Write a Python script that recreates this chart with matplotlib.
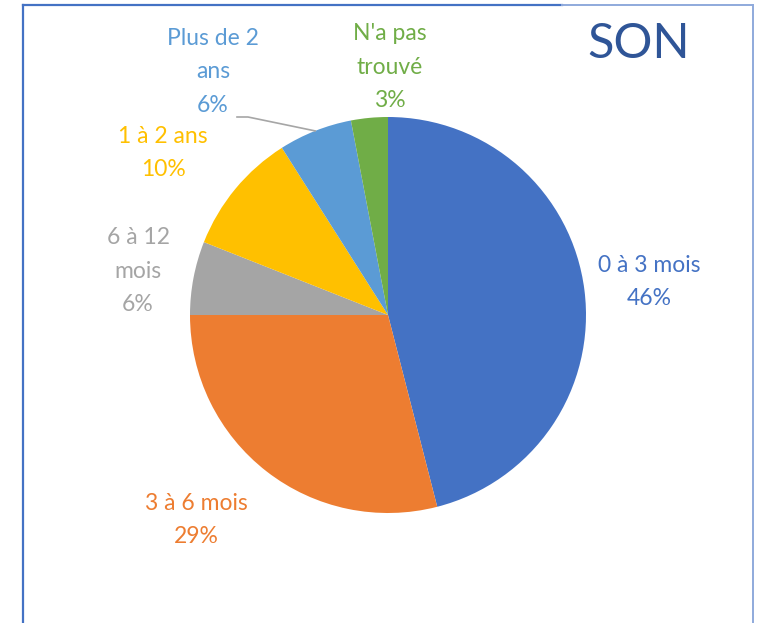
import numpy as np
import matplotlib
matplotlib.use("Agg")
from matplotlib import pyplot as plt
from matplotlib.lines import Line2D

plt.rcParams['font.family'] = ['Lato', 'DejaVu Sans']

labels = ["0 à 3 mois", "3 à 6 mois", "6 à 12\nmois", "1 à 2 ans", "Plus de 2\nans", "N'a pas\ntrouvé"]
values = [46, 29, 6, 10, 6, 3]
colors = ["#4472C4", "#ED7D31", "#A5A5A5", "#FFC000", "#5B9BD5", "#70AD47"]
title = "SON"

W, H = 759, 623
fig = plt.figure(figsize=(W / 100, H / 100), dpi=100)
ax = fig.add_axes([0, 0, 1, 1])

# pie centre and radius in pixels (from top-left)
cx, cy, r = 388, 315, 198

wedges, _ = ax.pie(values, colors=colors, startangle=90, counterclock=False,
                   radius=1, center=(0, 0), frame=True,
                   wedgeprops=dict(linewidth=0))
ax.set_xlim(-cx / r, (W - cx) / r)
ax.set_ylim(-(H - cy) / r, cy / r)
ax.set_aspect('equal')
ax.axis('off')

# label positions (pixels, centre of text block)
pos = [(649, 282), (196, 520), (138, 271), (163, 153), (213, 72), (390, 67)]
for lab, v, c, (px, py) in zip(labels, values, colors, pos):
    ax.text((px - cx) / r, (cy - py) / r, lab + "\n" + str(v) + "%",
            color=c, fontsize=16.5, ha='center', va='center', linespacing=1.75)

# leader line for "Plus de 2 ans"
w = wedges[4]
mid = np.deg2rad((w.theta1 + w.theta2) / 2)
ex, ey = np.cos(mid), np.sin(mid)
ax.plot([(237 - cx) / r, (248 - cx) / r, ex], [(cy - 117) / r, (cy - 117) / r, ey],
        color="#A6A6A6", lw=1.2)

ax.text((639 - cx) / r, (cy - 44) / r, title, color="#2F5597", fontsize=35,
        ha='center', va='center')

# frame lines
def fl(x0, y0, x1, y1, c, lw):
    fig.add_artist(Line2D([x0 / W, x1 / W], [1 - y0 / H, 1 - y1 / H],
                          transform=fig.transFigure, color=c, lw=lw))

fl(23, 5, 23, H, "#4472C4", 1.6)
fl(23, 5, 562, 5, "#4472C4", 1.6)
fl(562, 5, 753, 5, "#8FAADC", 1.4)
fl(753, 5, 753, H, "#8FAADC", 1.4)

fig.savefig("out.png", dpi=100)
plt.close()
